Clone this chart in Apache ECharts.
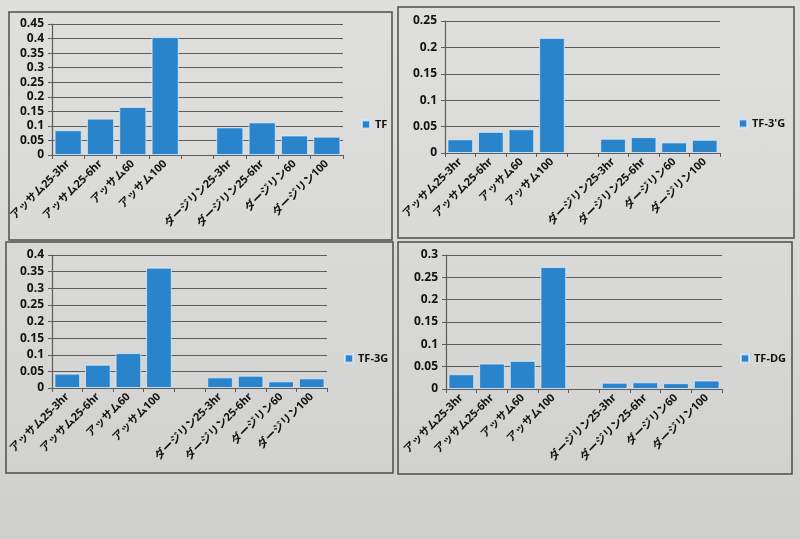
<!DOCTYPE html>
<html>
<head>
<meta charset="utf-8">
<script src="https://cdn.jsdelivr.net/npm/echarts@6/dist/echarts.min.js"></script>
<style>
  html, body { margin: 0; padding: 0; }
  body { background: linear-gradient(180deg, #dfe0de 0%, #d8d9d6 55%, #cfd0cd 100%); }
  #chart { width: 800px; height: 539px; }
</style>
</head>
<body>
<div id="chart"></div>
<script>
// カテゴリ（空欄はグループの区切り）
const categories = [
  "アッサム25-3hr", "アッサム25-6hr", "アッサム60", "アッサム100", "",
  "ダージリン25-3hr", "ダージリン25-6hr", "ダージリン60", "ダージリン100"
];
const seriesNames = ["TF", "TF-3'G", "TF-3G", "TF-DG"];
const tf = [0.085, 0.125, 0.165, 0.405, null, 0.095, 0.112, 0.067, 0.063];
const tf3g1 = [0.026, 0.040, 0.045, 0.218, null, 0.027, 0.030, 0.020, 0.025];
const tf3g = [0.043, 0.070, 0.105, 0.362, null, 0.032, 0.037, 0.020, 0.029];
const tfdg = [0.033, 0.057, 0.063, 0.273, null, 0.014, 0.015, 0.013, 0.019];
const yMax = [0.45, 0.25, 0.4, 0.3];
const yStep = [0.05, 0.05, 0.05, 0.05];

const values = [tf, tf3g1, tf3g, tfdg];

// パネル枠と描画領域 (px)
const panels = [
  { box: [9, 12, 383, 228], grid: { left: 52, top: 24, width: 291, height: 131 }, legend: [361, 119] },
  { box: [398, 7, 396, 231], grid: { left: 445, top: 21, width: 275, height: 132 }, legend: [738, 118] },
  { box: [6, 242, 387, 231], grid: { left: 52, top: 255, width: 275, height: 133 }, legend: [344, 353] },
  { box: [398, 242, 394, 232], grid: { left: 446, top: 255, width: 276, height: 134 }, legend: [740, 353] }
];

const fontFamily = "'Open Sans', 'Noto Sans CJK JP', sans-serif";
const barColor = "#2a84cc";
const lineColor = "#5c5c5c";

const myChart = echarts.init(document.getElementById("chart"));

const options = {
  backgroundColor: "transparent",
  animation: false,
  textStyle: { fontFamily: fontFamily },
  graphic: panels.map((p) => ({
    type: "rect",
    shape: { x: p.box[0], y: p.box[1], width: p.box[2], height: p.box[3] },
    style: { fill: "none", stroke: "#4e4e4e", lineWidth: 1.5 },
    z: -10
  })),
  legend: panels.map((p, i) => ({
    data: [seriesNames[i]],
    left: p.legend[0],
    top: p.legend[1],
    padding: 0,
    itemWidth: 8,
    itemHeight: 8,
    itemGap: 4,
    icon: "rect",
    textStyle: { color: "#111", fontSize: 11, fontWeight: "bold", fontFamily: fontFamily }
  })),
  grid: panels.map((p) => ({ ...p.grid, containLabel: false })),
  xAxis: panels.map((p, i) => ({
    type: "category",
    gridIndex: i,
    data: categories,
    axisLine: { show: true, lineStyle: { color: lineColor, width: 1.2 } },
    axisTick: { show: true, alignWithLabel: false, length: 4, lineStyle: { color: lineColor } },
    axisLabel: {
      interval: 0,
      rotate: 45,
      color: "#111",
      fontSize: 11,
      fontWeight: "bold",
      fontFamily: fontFamily,
      margin: 7
    }
  })),
  yAxis: panels.map((p, i) => ({
    type: "value",
    gridIndex: i,
    min: 0,
    max: yMax[i],
    interval: yStep[i],
    axisLine: { show: true, lineStyle: { color: lineColor, width: 1.2 } },
    axisTick: { show: true, length: 4, lineStyle: { color: lineColor } },
    splitLine: { show: true, lineStyle: { color: lineColor, width: 1 } },
    axisLabel: {
      color: "#111",
      fontSize: 12,
      fontWeight: "bold",
      fontFamily: fontFamily,
      margin: 8,
      formatter: (v) => String(Math.round(v * 100) / 100)
    }
  })),
  series: values.map((vals, i) => ({
    name: seriesNames[i],
    type: "bar",
    xAxisIndex: i,
    yAxisIndex: i,
    data: vals,
    barCategoryGap: "16%",
    itemStyle: {
      color: barColor,
      borderColor: "rgba(225,240,255,0.7)",
      borderWidth: 1
    }
  }))
};

myChart.setOption(options);
</script>
</body>
</html>
